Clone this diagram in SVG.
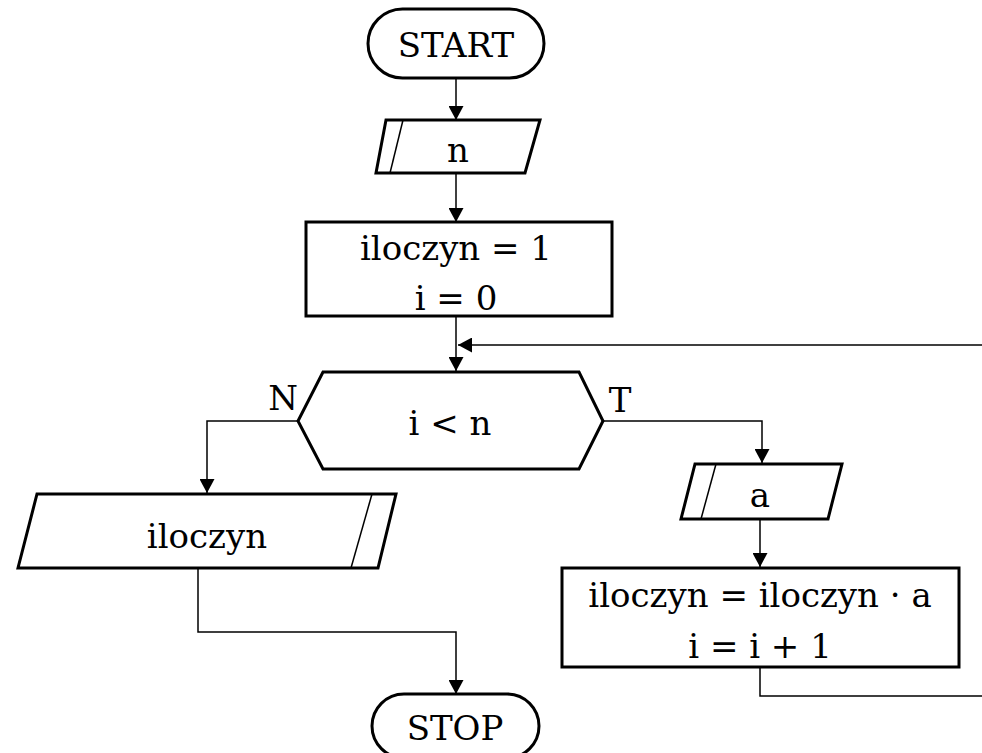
<svg xmlns="http://www.w3.org/2000/svg" width="982" height="753" viewBox="0 0 982 753">
<defs>
<marker id="arr" markerWidth="14" markerHeight="15" refX="14" refY="7.5" orient="auto" markerUnits="userSpaceOnUse">
<path d="M0,0 L14,7.5 L0,15 Z" fill="#000"/>
</marker>
<style>
.s{fill:#fff;stroke:#000;stroke-width:3;stroke-linejoin:miter}
.in{fill:none;stroke:#000;stroke-width:1.5}
.c{fill:none;stroke:#000;stroke-width:1.5}
text{font-family:"DejaVu Serif","Liberation Serif",serif;font-size:34px;fill:#000;text-anchor:middle}
</style>
</defs>
<rect width="982" height="753" fill="#fff"/>
<g id="connectors">
<path class="c" d="M456,78 V120" marker-end="url(#arr)"/>
<path class="c" d="M456,173 V222" marker-end="url(#arr)"/>
<path class="c" d="M456,316 V371" marker-end="url(#arr)"/>
<path class="c" d="M982,345 H458" marker-end="url(#arr)"/>
<path class="c" d="M298,421 H207 V493" marker-end="url(#arr)"/>
<path class="c" d="M603,421 H762 V463" marker-end="url(#arr)"/>
<path class="c" d="M760,519 V567" marker-end="url(#arr)"/>
<path class="c" d="M198,568 V632 H456 V694" marker-end="url(#arr)"/>
<path class="c" d="M760,667 V696 H982"/>
</g>
<g id="start">
<rect class="s" x="368" y="9" width="176" height="69" rx="34.5"/>
<text x="456" y="57">START</text>
</g>
<g id="input-n">
<path class="s" d="M386,120 H540 L525,173 H376 Z"/>
<path class="in" d="M403,120 L390,173"/>
<text x="458" y="162">n</text>
</g>
<g id="init">
<rect class="s" x="306" y="222" width="306" height="94"/>
<text x="456" y="260">iloczyn = 1</text>
<text x="456" y="310">i = 0</text>
</g>
<g id="cond">
<path class="s" d="M323,372 H579 L603,421 L579,469 H323 L298,421 Z"/>
<text x="450" y="435">i &lt; n</text>
<text x="283" y="410">N</text>
<text x="620" y="412">T</text>
</g>
<g id="output">
<path class="s" d="M37,494 H396 L378,568 H18 Z"/>
<path class="in" d="M372,494 L351,568"/>
<text x="207" y="548">iloczyn</text>
</g>
<g id="input-a">
<path class="s" d="M695,464 H842 L828,519 H681 Z"/>
<path class="in" d="M716,464 L701,519"/>
<text x="760" y="507">a</text>
</g>
<g id="update">
<rect class="s" x="562" y="568" width="397" height="99"/>
<text x="760" y="607">iloczyn = iloczyn · a</text>
<text x="760" y="658">i = i + 1</text>
</g>
<g id="stop">
<rect class="s" x="372" y="694" width="167" height="64" rx="32"/>
<text x="455" y="740">STOP</text>
</g>
</svg>
